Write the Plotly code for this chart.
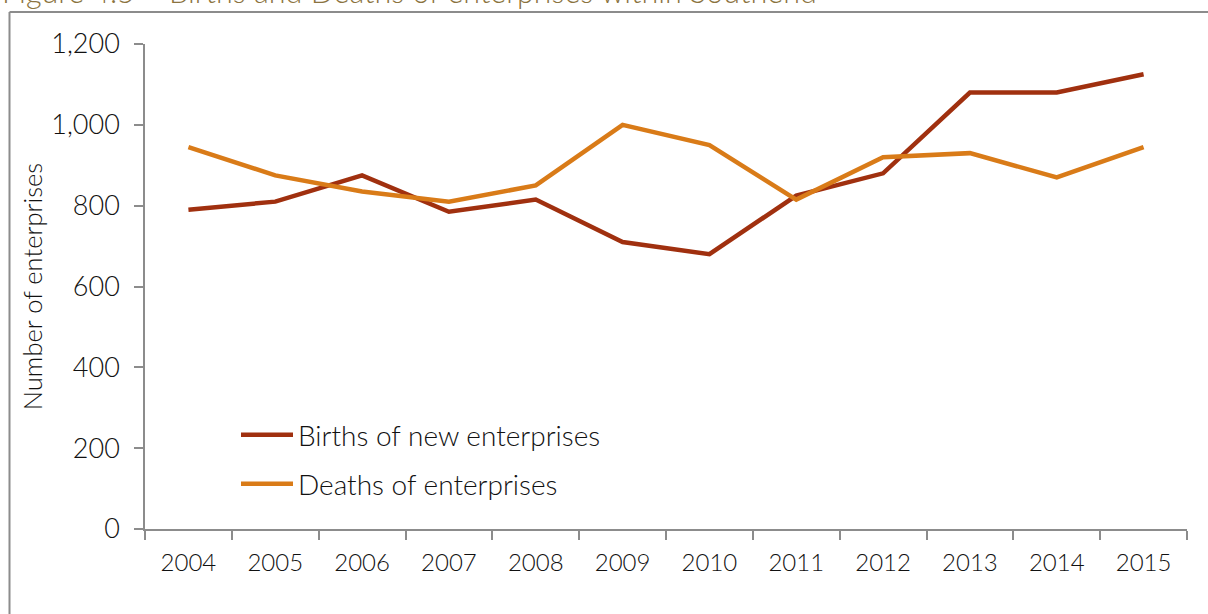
import plotly.graph_objects as go

years = ["2004", "2005", "2006", "2007", "2008", "2009", "2010", "2011", "2012", "2013", "2014", "2015"]
births = [790, 810, 875, 785, 815, 710, 680, 825, 880, 1080, 1080, 1125]
deaths = [945, 875, 835, 810, 850, 1000, 950, 815, 920, 930, 870, 945]
y_ticks = [0, 200, 400, 600, 800, 1000, 1200]
y_tick_labels = ["0", "200", "400", "600", "800", "1,000", "1,200"]

FONT = "Lato"
W, H = 1208, 614
L, R, T, B = 145, 21, 44, 85
pw = W - L - R
ph = H - T - B

def px_x(x):
    return (x - L) / pw

def px_y(y):
    return (H - B - y) / ph

fig = go.Figure()
fig.add_trace(go.Scatter(x=years, y=births, mode="lines", name="Births of new enterprises",
                         line=dict(color="#A0300F", width=4.5), legend="legend"))
fig.add_trace(go.Scatter(x=years, y=deaths, mode="lines", name="Deaths of enterprises",
                         line=dict(color="#D97B18", width=4.5), legend="legend2"))

leg_common = dict(xanchor="left", yanchor="middle", bgcolor="rgba(0,0,0,0)",
                  itemwidth=52,
                  font=dict(size=28, color="#111111", family=FONT, weight=300))

fig.update_layout(
    width=W, height=H,
    margin=dict(l=L, r=R, t=T, b=B),
    paper_bgcolor="white", plot_bgcolor="white",
    font=dict(family=FONT, size=24, color="#111111"),
    showlegend=True,
    legend=dict(x=px_x(236), y=px_y(435), **leg_common),
    legend2=dict(x=px_x(236), y=px_y(484), **leg_common),
    xaxis=dict(type="category", range=[-0.5, 11.5], showgrid=False,
               showline=True, linecolor="#8c8c8c", linewidth=1.5,
               ticks="outside", ticklen=9, tickcolor="#8c8c8c", tickwidth=1.5,
               tickson="boundaries", tickfont=dict(size=24, weight=300),
               ticklabelstandoff=11, zeroline=False),
    yaxis=dict(range=[0, 1200], tickvals=y_ticks, ticktext=y_tick_labels,
               showgrid=False, showline=True, linecolor="#8c8c8c", linewidth=1.5,
               ticks="outside", ticklen=9, tickcolor="#8c8c8c", tickwidth=1.5,
               tickfont=dict(size=27, weight=300), ticklabelstandoff=9, zeroline=False,
               title=dict(text="Number of enterprises", font=dict(size=25.5, weight=300),
                          standoff=1)),
)

# surrounding frame (left and top edges)
fig.add_shape(type="line", xref="paper", yref="paper",
              x0=px_x(9.5), x1=px_x(1215), y0=px_y(12), y1=px_y(12),
              line=dict(color="#8c8c8c", width=2))
fig.add_shape(type="line", xref="paper", yref="paper",
              x0=px_x(9.5), x1=px_x(9.5), y0=px_y(12), y1=px_y(620),
              line=dict(color="#8c8c8c", width=2))

fig.add_annotation(text="Figure 4.5 \u2013 Births and Deaths of enterprises within Southend",
                   xref="paper", yref="paper", x=px_x(0), y=px_y(11),
                   xanchor="left", yanchor="bottom", showarrow=False,
                   font=dict(size=30.5, color="#8B7340", family=FONT, weight=300))

fig.write_html("out.html")
